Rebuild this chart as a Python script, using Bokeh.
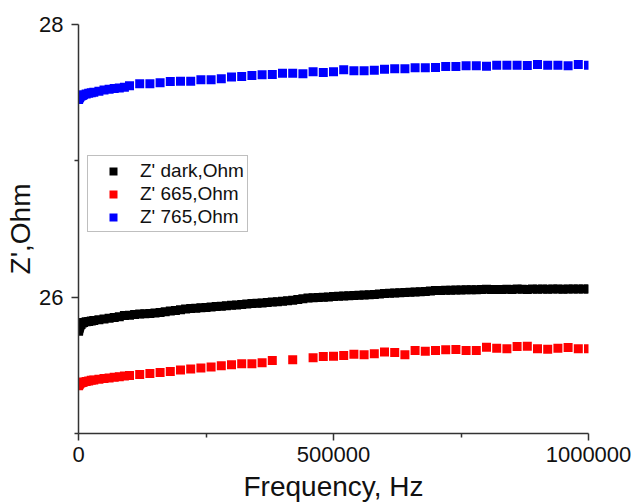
from bokeh.plotting import figure
from bokeh.models import Range1d, FixedTicker, BasicTickFormatter, Legend, LegendItem
from bokeh.embed import file_html
from bokeh.resources import INLINE

# Frequency sweep points (Hz)
freq_low = [100, 500, 1000, 2000, 3000, 5000, 7500, 10000, 15000, 20000, 25000,
            30000, 40000, 50000, 60000, 70000, 80000, 90000, 100000]

freq_blue = freq_low + [
    120000, 140000, 160000, 180000, 200000, 220000, 240000, 260000, 280000, 300000,
    320000, 340000, 360000, 380000, 400000, 420000, 440000, 460000, 480000, 500000,
    520000, 540000, 560000, 580000, 600000, 620000, 640000, 660000, 680000, 700000,
    720000, 740000, 760000, 780000, 800000, 820000, 840000, 860000, 880000, 900000,
    920000, 940000, 960000, 980000, 1000000]

freq_red = freq_low + [
    120000, 140000, 160000, 180000, 200000, 220000, 240000, 260000, 280000, 300000,
    320000, 340000, 360000, 380000, 420000, 460000, 480000, 500000,
    520000, 540000, 560000, 580000, 600000, 620000, 640000, 660000, 680000, 700000,
    720000, 740000, 760000, 780000, 800000, 820000, 840000, 860000, 880000, 900000,
    920000, 940000, 960000, 980000, 1000000]

freq_dark = [100, 500, 1000, 2000, 3000, 5000, 7500, 10000, 15000, 20000, 25000,
             30000, 40000, 50000, 60000, 70000, 80000, 90000,
             100000, 110000, 120000, 130000, 140000, 150000, 160000, 170000, 180000, 190000,
             200000, 210000, 220000, 230000, 240000, 250000, 260000, 270000, 280000, 290000,
             300000, 310000, 320000, 330000, 340000, 350000, 360000, 370000, 380000, 390000,
             400000, 410000, 420000, 430000, 440000, 450000, 460000, 470000, 480000, 490000,
             500000, 510000, 520000, 530000, 540000, 550000, 560000, 570000, 580000, 590000,
             600000, 610000, 620000, 630000, 640000, 650000, 660000, 670000, 680000, 690000,
             700000, 710000, 720000, 730000, 740000, 750000, 760000, 770000, 780000, 790000,
             800000, 810000, 820000, 830000, 840000, 850000, 860000, 870000, 880000, 890000,
             900000, 910000, 920000, 930000, 940000, 950000, 960000, 970000, 980000, 990000,
             1000000]

# Z' (Ohm) values
z_dark = [25.75, 25.76, 25.77, 25.78, 25.79, 25.80, 25.81, 25.815, 25.82, 25.822, 25.825,
          25.828, 25.835, 25.84, 25.845, 25.85, 25.857, 25.866,
          25.868, 25.872, 25.876, 25.879, 25.881, 25.884, 25.888, 25.893, 25.898, 25.903,
          25.908, 25.913, 25.916, 25.919, 25.922, 25.925, 25.928, 25.931, 25.934, 25.937,
          25.940, 25.943, 25.946, 25.950, 25.953, 25.956, 25.958, 25.961, 25.964, 25.967,
          25.970, 25.974, 25.978, 25.983, 25.988, 25.993, 25.995, 25.997, 26.000, 26.002,
          26.004, 26.006, 26.008, 26.010, 26.012, 26.014, 26.016, 26.018, 26.020, 26.023,
          26.026, 26.028, 26.030, 26.032, 26.034, 26.036, 26.038, 26.040, 26.042, 26.045,
          26.048, 26.049, 26.050, 26.051, 26.052, 26.053, 26.054, 26.055, 26.055, 26.056,
          26.058, 26.056, 26.057, 26.056, 26.058, 26.057, 26.059, 26.058, 26.057, 26.059,
          26.058, 26.060, 26.058, 26.059, 26.060, 26.058, 26.059, 26.060, 26.059, 26.060,
          26.060]

z_665 = [25.35, 25.355, 25.36, 25.365, 25.368, 25.372, 25.375, 25.378, 25.382, 25.386, 25.39,
         25.393, 25.398, 25.403, 25.408, 25.412, 25.417, 25.421, 25.425,
         25.432, 25.44, 25.448, 25.455, 25.465, 25.473, 25.48, 25.488, 25.497, 25.505,
         25.512, 25.512, 25.519, 25.536, 25.541, 25.556, 25.565, 25.567,
         25.572, 25.582, 25.578, 25.585, 25.597, 25.594, 25.578, 25.609, 25.604, 25.609,
         25.614, 25.617, 25.609, 25.609, 25.633, 25.626, 25.621, 25.638, 25.640, 25.621,
         25.618, 25.626, 25.631, 25.621, 25.621]

z_765 = [27.45, 27.455, 27.46, 27.465, 27.47, 27.475, 27.48, 27.485, 27.49, 27.495, 27.50,
         27.503, 27.51, 27.52, 27.525, 27.53, 27.535, 27.54, 27.55,
         27.565, 27.565, 27.572, 27.582, 27.584, 27.584, 27.594, 27.594, 27.602, 27.614,
         27.619, 27.626, 27.631, 27.633, 27.643, 27.643, 27.638, 27.653, 27.648, 27.653,
         27.668, 27.660, 27.660, 27.665, 27.672, 27.675, 27.675, 27.682, 27.682, 27.685,
         27.692, 27.692, 27.697, 27.697, 27.694, 27.701, 27.701, 27.701, 27.699, 27.707,
         27.701, 27.701, 27.697, 27.707, 27.701]

series_names = ["Z' dark,Ohm", "Z' 665,Ohm", "Z' 765,Ohm"]
series_colors = ["#000000", "#ff0000", "#0000ff"]

x_ticks = [0, 500000, 1000000]
x_minor = [250000, 750000]
y_ticks = [26, 28]
y_minor = [25, 27]

FONT = "Liberation Sans"
AXIS_COLOR = "#333333"

p = figure(width=633, height=504,
           x_range=Range1d(0, 1000000), y_range=Range1d(25, 28),
           output_backend="svg", toolbar_location=None,
           min_border_left=78, min_border_right=45,
           min_border_top=24, min_border_bottom=71)

p.grid.visible = False
p.outline_line_color = None
p.background_fill_color = "white"
p.border_fill_color = "white"

renderers = []
for xs, ys, color in zip([freq_dark, freq_red, freq_blue],
                         [z_dark, z_665, z_765], series_colors):
    r = p.scatter(xs, ys, marker="square", size=9, fill_color=color,
                  line_color=None)
    renderers.append(r)

for ax in (p.xaxis[0], p.yaxis[0]):
    ax.axis_line_color = AXIS_COLOR
    ax.axis_line_width = 1.5
    ax.major_tick_line_color = AXIS_COLOR
    ax.minor_tick_line_color = AXIS_COLOR
    ax.major_tick_line_width = 1.5
    ax.minor_tick_line_width = 1.5
    ax.major_tick_out = 7
    ax.major_tick_in = 0
    ax.minor_tick_out = 4
    ax.minor_tick_in = 0
    ax.major_label_text_font = FONT
    ax.major_label_text_font_size = "22px"
    ax.major_label_text_color = "#111111"
    ax.axis_label_text_font = FONT
    ax.axis_label_text_font_size = "28px"
    ax.axis_label_text_font_style = "normal"
    ax.axis_label_text_color = "#111111"

p.xaxis.ticker = FixedTicker(ticks=x_ticks, minor_ticks=x_minor)
p.yaxis.ticker = FixedTicker(ticks=y_ticks, minor_ticks=y_minor)
p.xaxis.formatter = BasicTickFormatter(use_scientific=False)
p.xaxis.axis_label = "Frequency, Hz"
p.yaxis.axis_label = "Z',Ohm"
p.xaxis.major_label_standoff = 6
p.yaxis.major_label_standoff = 8
p.xaxis.axis_label_standoff = 6
p.yaxis.axis_label_standoff = 0

legend = Legend(items=[LegendItem(label=n, renderers=[r])
                       for n, r in zip(series_names, renderers)],
                location=(9, 201), orientation="vertical",
                padding=3, spacing=0, margin=0,
                glyph_width=44, glyph_height=20, label_height=23,
                label_standoff=5,
                label_text_font=FONT, label_text_font_size="19px",
                label_text_color="#111111",
                border_line_color="#808080", border_line_width=1.5,
                background_fill_color="white", background_fill_alpha=1.0)
p.add_layout(legend, "center")

open("out.html", "w").write(file_html(p, INLINE))
